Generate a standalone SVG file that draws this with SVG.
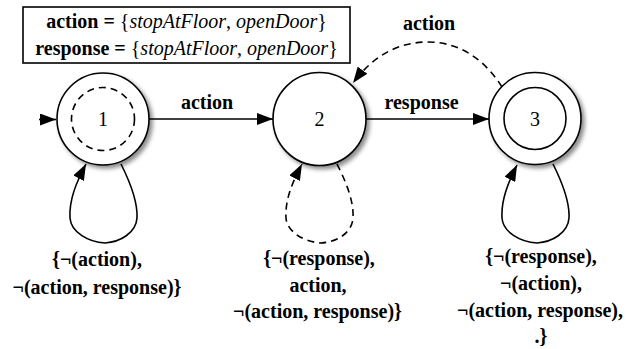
<svg xmlns="http://www.w3.org/2000/svg" width="639" height="349" viewBox="0 0 639 349">
<defs>
<marker id="ah" viewBox="0 0 16 12" refX="16" refY="6" markerWidth="16" markerHeight="12" markerUnits="userSpaceOnUse" orient="auto">
<path d="M0,0 L16,6 L0,12 z" fill="#000"/>
</marker>
<filter id="sh" x="-20%" y="-20%" width="150%" height="150%">
<feDropShadow dx="3" dy="3" stdDeviation="2" flood-color="#000" flood-opacity="0.45"/>
</filter>
</defs>
<rect width="639" height="349" fill="#fff"/>
<g id="legend">
<rect x="23" y="7" width="327" height="56" fill="#fff" stroke="#000" stroke-width="1.6"/>
<text x="186.5" y="28" font-family="Liberation Serif" font-size="20" text-anchor="middle"><tspan font-weight="bold">action =</tspan> {<tspan font-style="italic">stopAtFloor</tspan>, <tspan font-style="italic">openDoor</tspan>}</text>
<text x="186.5" y="55" font-family="Liberation Serif" font-size="20" text-anchor="middle"><tspan font-weight="bold">response =</tspan> {<tspan font-style="italic">stopAtFloor</tspan>, <tspan font-style="italic">openDoor</tspan>}</text>
</g>
<g id="connectors" fill="none" stroke="#000" stroke-width="1.6" marker-end="url(#ah)">
<path d="M39,119.5 L56,119.5"/>
<path d="M149,119 L273,119"/>
<path d="M366,119 L489,119"/>
<path stroke-dasharray="7,5" d="M502,87 C485,60 460,42 428,42 C398,42 373,56 353,83"/>
<path d="M121,164 C129,180 138,200 137,218 C136,233 120,242 105,243 C88,242 71,232 70,218 C69,200 76,183 86,164"/>
<path stroke-dasharray="7,5" d="M337,164 C345,180 354,200 353,218 C352,233 337,242 321,243 C304,242 287,232 286,218 C285,200 292,183 302,164"/>
<path d="M553,164 C561,180 570,200 569,218 C568,233 552,242 537,243 C520,242 503,232 502,218 C501,200 508,183 517,165"/>
</g>
<g id="edge-labels">
<text x="207" y="109" font-family="Liberation Serif" font-size="20" font-weight="bold" text-anchor="middle">action</text>
<text x="421.5" y="109" font-family="Liberation Serif" font-size="20" font-weight="bold" text-anchor="middle">response</text>
<text x="429" y="30" font-family="Liberation Serif" font-size="20" font-weight="bold" text-anchor="middle">action</text>
<text x="97" y="266" font-family="Liberation Serif" font-size="20" font-weight="bold" text-anchor="middle">{¬(action),</text>
<text x="97" y="294" font-family="Liberation Serif" font-size="20" font-weight="bold" text-anchor="middle">¬(action, response)}</text>
<text x="319" y="265" font-family="Liberation Serif" font-size="20" font-weight="bold" text-anchor="middle">{¬(response),</text>
<text x="318" y="292" font-family="Liberation Serif" font-size="20" font-weight="bold" text-anchor="middle">action,</text>
<text x="317.5" y="318" font-family="Liberation Serif" font-size="20" font-weight="bold" text-anchor="middle">¬(action, response)}</text>
<text x="541" y="263" font-family="Liberation Serif" font-size="20" font-weight="bold" text-anchor="middle">{¬(response),</text>
<text x="541" y="290" font-family="Liberation Serif" font-size="20" font-weight="bold" text-anchor="middle">¬(action),</text>
<text x="540" y="317" font-family="Liberation Serif" font-size="20" font-weight="bold" text-anchor="middle">¬(action, response),</text>
<text x="541" y="343" font-family="Liberation Serif" font-size="20" font-weight="bold" text-anchor="middle">.}</text>
</g>
<g id="node1">
<circle cx="103" cy="119" r="46" fill="#fff" stroke="#000" stroke-width="1.6" filter="url(#sh)"/>
<circle cx="103" cy="119" r="31.5" fill="none" stroke="#000" stroke-width="1.6" stroke-dasharray="7,5"/>
<text x="103" y="126" font-family="Liberation Serif" font-size="20" text-anchor="middle">1</text>
</g>
<g id="node2">
<circle cx="319.5" cy="119" r="46.5" fill="#fff" stroke="#000" stroke-width="1.6" filter="url(#sh)"/>
<text x="319.5" y="126" font-family="Liberation Serif" font-size="20" text-anchor="middle">2</text>
</g>
<g id="node3">
<circle cx="535" cy="118.5" r="46" fill="#fff" stroke="#000" stroke-width="1.6" filter="url(#sh)"/>
<circle cx="535" cy="118.5" r="31" fill="none" stroke="#000" stroke-width="1.6"/>
<text x="535" y="125.5" font-family="Liberation Serif" font-size="20" text-anchor="middle">3</text>
</g>
</svg>
